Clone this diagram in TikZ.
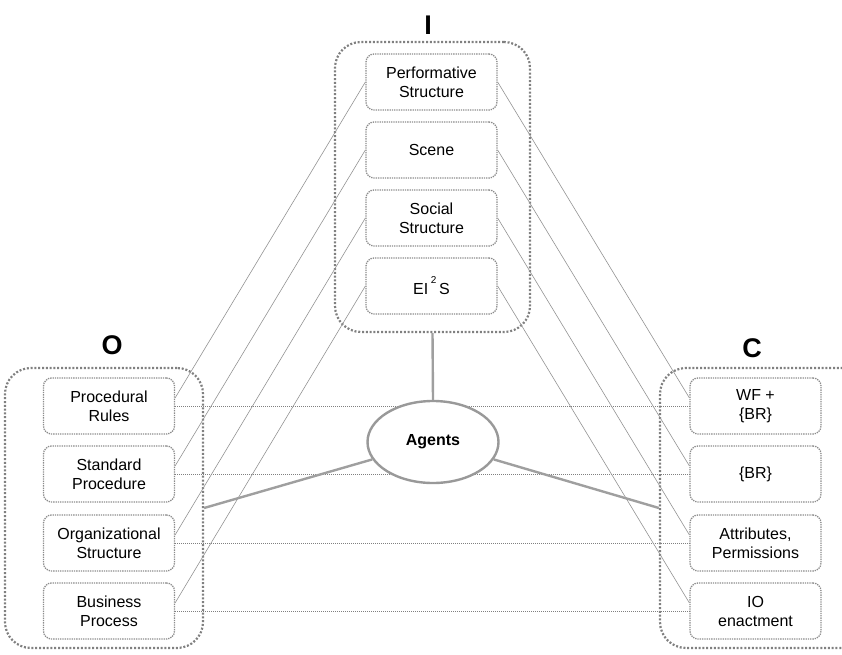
\documentclass[tikz,border=0pt]{standalone}
\usepackage{fontspec}
\setmainfont{Liberation Sans}
\usetikzlibrary{shapes.geometric}
\tikzset{
  box/.style={draw=gray!90, densely dotted, line width=1.3pt, rounded corners=8pt, fill=white,
    minimum width=131pt, minimum height=56pt, align=center, inner sep=2pt,
    font=\fontsize{16}{19}\selectfont},
  grp/.style={draw=gray, dash pattern=on 2pt off 1.8pt, line width=2.2pt, rounded corners=26pt},
  diag/.style={draw=gray!85, line width=0.6pt},
  hlink/.style={draw=gray, densely dotted, line width=1pt},
  agline/.style={draw=gray!75, line width=2.4pt},
  agent/.style={ellipse, draw=gray!80, line width=2.4pt, fill=white, minimum width=131pt,
    minimum height=82pt, inner sep=0pt, font=\fontsize{16}{19}\selectfont\bfseries},
  grplabel/.style={font=\fontsize{27}{27}\selectfont\bfseries}
}
\begin{document}
\begin{tikzpicture}[x=1pt,y=1pt]
        \useasboundingbox (0,0) rectangle (842,654);
        \node[grp, minimum width=195pt, minimum height=290pt] (igrp) at (432.5,467) {};
        \node[grp, minimum width=198pt, minimum height=280pt] (ogrp) at (104,146) {};
        \node[grp, minimum width=220pt, minimum height=280pt] (cgrp) at (770,146) {};
        \node[grplabel] (ilab) at (428,629) {I};
        \node[grplabel] (olab) at (112,309) {O};
        \node[grplabel] (clab) at (752,306) {C};
        \node[box] (pfs) at (431.5,572) {Performative\\Structure};
        \node[box] (scn) at (431.5,504) {Scene};
        \node[box] (scs) at (431.5,436) {Social\\Structure};
        \node[box] (eis) at (431.5,368) {EI\,\raisebox{1.3ex}{\fontsize{10}{10}\selectfont 2}\,S};
        \node[box] (prr) at (109,248) {Procedural\\Rules};
        \node[box] (stp) at (109,180) {Standard\\Procedure};
        \node[box] (ors) at (109,111) {Organizational\\Structure};
        \node[box] (bup) at (109,43) {Business\\Process};
        \node[box] (wfb) at (755.5,248) {WF +\\\{BR\}};
        \node[box] (brs) at (755.5,180) {\{BR\}};
        \node[box] (atp) at (755.5,111) {Attributes,\\Permissions};
        \node[box] (ioe) at (755.5,43) {IO\\enactment};
        \foreach \a/\b in {prr/wfb, stp/brs, ors/atp, bup/ioe}
          \draw[hlink] (\a.east) -- (\b.west);
        \foreach \a/\b/\c in {pfs/prr/wfb, scn/stp/brs, scs/ors/atp, eis/bup/ioe} {
          \draw[diag] (\a.west) -- (\b.7);
          \draw[diag] (\a.east) -- (\c.173);
        }
        \node[agent] (agt) at (433,212) {Agents};
        \draw[agline] (igrp.south) -- (agt.north);
        \draw[agline] (agt.196) -- (ogrp.east);
        \draw[agline] (agt.-16) -- (cgrp.west);
      \end{tikzpicture}
\end{document}
